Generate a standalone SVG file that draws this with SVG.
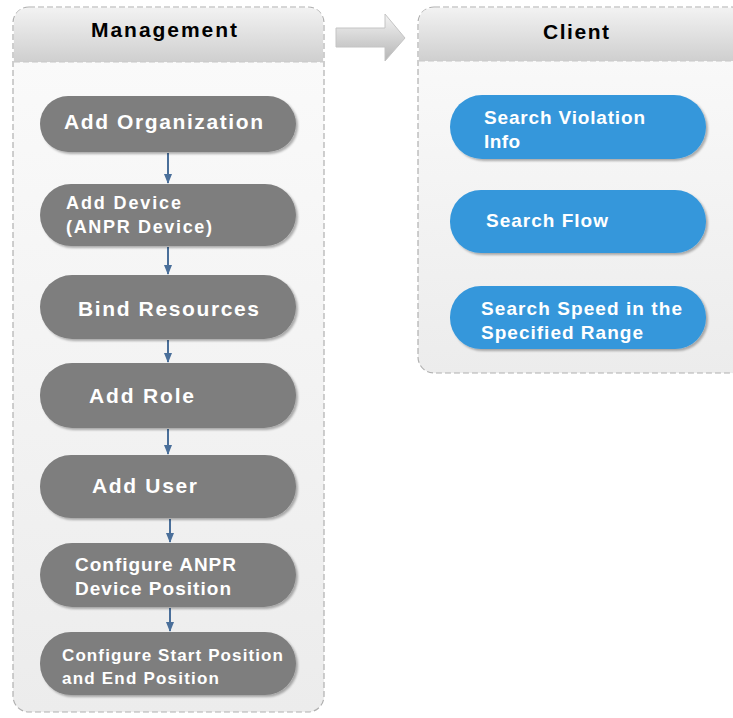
<svg xmlns="http://www.w3.org/2000/svg" width="733" height="718" viewBox="0 0 733 718">
<defs>
<linearGradient id="hdr" x1="0" y1="0" x2="0" y2="1">
<stop offset="0" stop-color="#f2f2f2"/><stop offset="1" stop-color="#cfcfcf"/>
</linearGradient>
<linearGradient id="body" x1="0" y1="0" x2="0" y2="1">
<stop offset="0" stop-color="#fbfbfb"/><stop offset="1" stop-color="#ececec"/>
</linearGradient>
<linearGradient id="arr" x1="0" y1="0" x2="0" y2="1">
<stop offset="0" stop-color="#f4f4f4"/><stop offset="1" stop-color="#b5b5b5"/>
</linearGradient>
<marker id="ah" markerWidth="10" markerHeight="8" refX="9" refY="4" orient="auto" markerUnits="userSpaceOnUse">
<path d="M0,0 L10,4 L0,8 Z" fill="#4a6f9a"/>
</marker>
<filter id="sh" x="-5%" y="-10%" width="115%" height="130%">
<feDropShadow dx="2" dy="2" stdDeviation="1.2" flood-color="#000" flood-opacity="0.3"/>
</filter>
</defs>
<style>
.panel{fill:url(#body);stroke:#b0b0b0;stroke-width:1.2;stroke-dasharray:6 3}
.hdrband{fill:url(#hdr)}
.title{font-family:"Liberation Sans",Arial,sans-serif;font-weight:bold;font-size:21px;fill:#000}
.g{fill:#7e7e7e;filter:url(#sh)}
.b{fill:#3597db;filter:url(#sh)}
.t{font-family:"Liberation Sans",Arial,sans-serif;font-weight:bold;fill:#fff}
.conn{stroke:#4a6f9a;stroke-width:2;fill:none}
</style>
<rect width="733" height="718" fill="#fff"/>

<g id="management-panel">
<rect class="panel" x="13" y="7" width="311" height="705" rx="16"/>
<path class="hdrband" d="M14,62 V23 Q14,8 29,8 H308 Q323,8 323,23 V62 Z"/>
<line x1="14" y1="62" x2="323" y2="62" stroke="#c8c8c8" stroke-dasharray="6 3"/>
<text class="title" x="91" y="37" textLength="146" lengthAdjust="spacing">Management</text>
</g>

<g id="client-panel">
<rect class="panel" x="418" y="7" width="330" height="366" rx="16"/>
<path class="hdrband" d="M419,61 V23 Q419,8 434,8 H747 V61 Z"/>
<line x1="419" y1="61" x2="733" y2="61" stroke="#c8c8c8" stroke-dasharray="6 3"/>
<text class="title" x="543" y="39" textLength="66" lengthAdjust="spacing">Client</text>
</g>

<g id="flow-arrow">
<path d="M336,28 H385 V14 L405,38 L385,61 V47 H336 Z" fill="url(#arr)" stroke="#c4c4c4" stroke-width="1"/>
</g>

<g id="connectors">
<line class="conn" x1="168" y1="153" x2="168" y2="183" marker-end="url(#ah)"/>
<line class="conn" x1="168" y1="247" x2="168" y2="274" marker-end="url(#ah)"/>
<line class="conn" x1="168" y1="340" x2="168" y2="362" marker-end="url(#ah)"/>
<line class="conn" x1="168" y1="429" x2="168" y2="454" marker-end="url(#ah)"/>
<line class="conn" x1="170" y1="519" x2="170" y2="542" marker-end="url(#ah)"/>
<line class="conn" x1="170" y1="608" x2="170" y2="631" marker-end="url(#ah)"/>
</g>

<g id="add-organization">
<rect class="g" x="40" y="96" width="256" height="56" rx="28"/>
<text class="t" x="64" y="129" font-size="21" textLength="199" lengthAdjust="spacing">Add Organization</text>
</g>
<g id="add-device">
<rect class="g" x="40" y="184" width="256" height="62" rx="31"/>
<text class="t" x="66" y="209" font-size="18" textLength="115" lengthAdjust="spacing">Add Device</text>
<text class="t" x="66" y="233" font-size="18" textLength="146" lengthAdjust="spacing">(ANPR Device)</text>
</g>
<g id="bind-resources">
<rect class="g" x="40" y="275" width="256" height="64" rx="32"/>
<text class="t" x="78" y="316" font-size="21" textLength="181" lengthAdjust="spacing">Bind Resources</text>
</g>
<g id="add-role">
<rect class="g" x="40" y="363" width="256" height="65" rx="32"/>
<text class="t" x="89" y="403" font-size="21" textLength="105" lengthAdjust="spacing">Add Role</text>
</g>
<g id="add-user">
<rect class="g" x="40" y="455" width="256" height="63" rx="31"/>
<text class="t" x="92" y="493" font-size="21" textLength="105" lengthAdjust="spacing">Add User</text>
</g>
<g id="configure-anpr">
<rect class="g" x="40" y="543" width="256" height="64" rx="32"/>
<text class="t" x="75" y="571" font-size="19" textLength="161" lengthAdjust="spacing">Configure ANPR</text>
<text class="t" x="75" y="595" font-size="19" textLength="156" lengthAdjust="spacing">Device Position</text>
</g>
<g id="configure-start-end">
<rect class="g" x="40" y="632" width="256" height="63" rx="31"/>
<text class="t" x="62" y="661" font-size="17" textLength="221" lengthAdjust="spacing">Configure Start Position</text>
<text class="t" x="62" y="684" font-size="17" textLength="157" lengthAdjust="spacing">and End Position</text>
</g>

<g id="search-violation">
<rect class="b" x="450" y="95" width="256" height="64" rx="32"/>
<text class="t" x="484" y="124" font-size="19" textLength="161" lengthAdjust="spacing">Search Violation</text>
<text class="t" x="484" y="148" font-size="19" textLength="36" lengthAdjust="spacing">Info</text>
</g>
<g id="search-flow">
<rect class="b" x="450" y="190" width="256" height="63" rx="31"/>
<text class="t" x="486" y="227" font-size="19" textLength="122" lengthAdjust="spacing">Search Flow</text>
</g>
<g id="search-speed">
<rect class="b" x="450" y="286" width="256" height="63" rx="31"/>
<text class="t" x="481" y="315" font-size="19" textLength="201" lengthAdjust="spacing">Search Speed in the</text>
<text class="t" x="481" y="339" font-size="19" textLength="162" lengthAdjust="spacing">Specified Range</text>
</g>
</svg>
